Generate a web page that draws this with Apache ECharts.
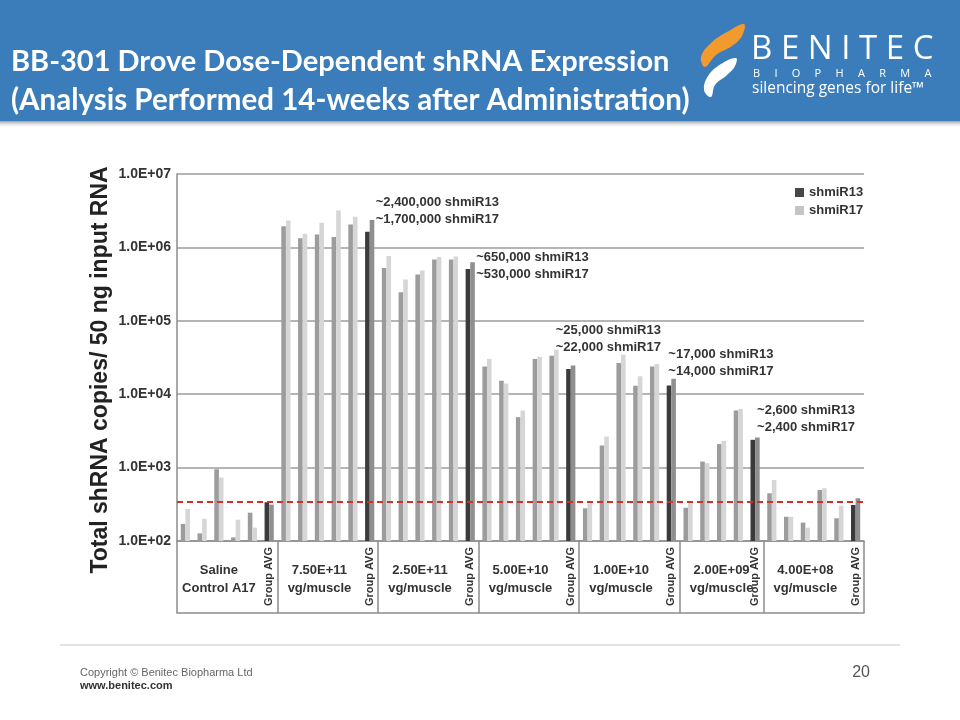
<!DOCTYPE html>
<html>
<head>
<meta charset="utf-8">
<script src="https://cdn.jsdelivr.net/npm/echarts@6/dist/echarts.min.js"></script>
<style>html,body{margin:0;padding:0;background:#fff}#c{width:960px;height:720px}</style>
</head>
<body>
<div id="c"></div>
<script>
// ---------- DATA ----------
const groupLabels = ['Saline\nControl A17', '7.50E+11\nvg/muscle', '2.50E+11\nvg/muscle', '5.00E+10\nvg/muscle', '1.00E+10\nvg/muscle', '2.00E+09\nvg/muscle', '4.00E+08\nvg/muscle'];
const avgLabel = 'Group AVG';
const shmiR13 = [
  [171, 127, 950, 112, 243],
  [1.94e6, 1.33e6, 1.50e6, 1.39e6, 2.05e6],
  [5.25e5, 2.44e5, 4.26e5, 6.82e5, 6.82e5],
  [2.39e4, 1.52e4, 4.87e3, 3.01e4, 3.34e4],
  [279, 2.0e3, 2.66e4, 1.30e4, 2.39e4],
  [284, 1.21e3, 2.09e3, 6.0e3],
  [447, 214, 178, 496, 204]
];
const shmiR17 = [
  [273, 201, 731, 195, 152],
  [2.32e6, 1.53e6, 2.16e6, 3.18e6, 2.61e6],
  [7.66e5, 3.64e5, 4.83e5, 7.42e5, 7.5e5],
  [3.01e4, 1.40e4, 6.0e3, 3.24e4, 4.03e4],
  [327, 2.65e3, 3.45e4, 1.75e4, 2.58e4],
  [327, 1.15e3, 2.31e3, 6.3e3],
  [679, 214, 152, 524, 303]
];
const avg13 = [337, 1.64e6, 5.09e5, 2.2e4, 1.31e4, 2.39e3, 310];
const avg17 = [313, 2.37e6, 6.26e5, 2.46e4, 1.62e4, 2.57e3, 382];
const annotations = [null, '~2,400,000 shmiR13\n~1,700,000 shmiR17', '~650,000 shmiR13\n~530,000 shmiR17', '~25,000 shmiR13\n~22,000 shmiR17', '~17,000 shmiR13\n~14,000 shmiR17', '~2,600 shmiR13\n~2,400 shmiR17', null];
const detectionLimit = 340;
const yTickLabels = ['1.0E+02', '1.0E+03', '1.0E+04', '1.0E+05', '1.0E+06', '1.0E+07'];
const seriesNames = ['shmiR13', 'shmiR17'];

// ---------- STYLE / LAYOUT ----------
const FONT = '"Liberation Sans", Arial, sans-serif';
const annotOffset = [null, [6, -26], [6, -13], [-15, -44], [-3, -33], [2, -36], null];

// ---------- BUILD ----------
const categories = [], isAvg = [], groupLabelAt = [], boundaries = new Set(), d13 = [], d17 = [];
groupLabels.forEach((g, gi) => {
  boundaries.add(categories.length);
  const n = shmiR13[gi].length;
  for (let k = 0; k < n; k++) {
    groupLabelAt.push(k === 2 ? g : '');
    categories.push('g' + gi + '-' + (k + 1));
    isAvg.push(false);
    d13.push(shmiR13[gi][k]);
    d17.push(shmiR17[gi][k]);
  }
  categories.push('g' + gi + '-avg');
  isAvg.push(true);
  groupLabelAt.push('');
  d13.push(avg13[gi]);
  const item = { value: avg17[gi] };
  if (annotations[gi]) {
    item.label = {
      show: true, formatter: annotations[gi], position: annotOffset[gi],
      align: 'left', verticalAlign: 'top', fontSize: 13, fontWeight: 'bold',
      color: '#333', lineHeight: 17, fontFamily: FONT
    };
  }
  d17.push(item);
});

const chart = echarts.init(document.getElementById('c'), null, { renderer: 'canvas' });
const gray = '#8c8c8c';
const option = {
  animation: false,
  backgroundColor: '#fff',
  textStyle: { fontFamily: FONT },
  grid: { left: 177, right: 96, top: 174, bottom: 179, containLabel: false },
  legend: {
    data: [{ name: seriesNames[0], itemStyle: { color: '#474747' } }, { name: seriesNames[1], itemStyle: { color: '#c4c4c4' } }],
    orient: 'vertical', left: 790, top: 181, itemWidth: 9, itemHeight: 9, itemGap: 5, icon: 'rect',
    textStyle: { fontSize: 13, fontWeight: 'bold', color: '#333', fontFamily: FONT }
  },
  xAxis: [
    {
      type: 'category', data: categories, position: 'bottom',
      axisLine: { show: true, lineStyle: { color: gray, width: 1.5 } },
      axisTick: { show: true, length: 72, interval: (i) => boundaries.has(i), lineStyle: { color: gray, width: 1.5 } },
      axisLabel: { interval: 0, formatter: (v, i) => groupLabelAt[i], margin: 20, fontSize: 13, fontWeight: 'bold', color: '#333', lineHeight: 18, fontFamily: FONT },
      splitLine: { show: false }
    },
    {
      type: 'category', data: categories, position: 'bottom',
      axisLine: { show: false }, axisTick: { show: false },
      axisLabel: { interval: 0, rotate: 90, formatter: (v, i) => isAvg[i] ? avgLabel : '', margin: 6, fontSize: 11, fontWeight: 'bold', color: '#333', fontFamily: FONT },
      splitLine: { show: false }
    },
    {
      type: 'category', data: categories, position: 'bottom', offset: 72,
      axisLine: { show: true, lineStyle: { color: gray, width: 1.5 } }, axisTick: { show: false },
      axisLabel: { show: false }, splitLine: { show: false }
    }
  ],
  yAxis: {
    type: 'log', logBase: 10, min: 100, max: 1e7,
    axisLine: { show: true, lineStyle: { color: gray, width: 1.5 } },
    axisTick: { show: false },
    axisLabel: { formatter: (v) => yTickLabels[Math.round(Math.log10(v)) - 2], fontSize: 14, fontWeight: 'bold', color: '#333', margin: 6, fontFamily: FONT },
    splitLine: { show: true, lineStyle: { color: '#9d9d9d', width: 1.5 } }
  },
  series: [
    {
      name: seriesNames[0], type: 'bar', xAxisIndex: 0, data: d13, barWidth: 4.6, barGap: '0%', clip: true,
      itemStyle: { color: (p) => isAvg[p.dataIndex] ? '#3b3b3b' : '#9c9c9c' },
      markLine: {
        silent: true, symbol: ['none', 'none'], label: { show: false },
        lineStyle: { color: '#d2302c', type: [6, 4], width: 2 },
        data: [{ yAxis: detectionLimit }]
      }
    },
    {
      name: seriesNames[1], type: 'bar', xAxisIndex: 0, data: d17, barWidth: 4.6, barGap: '0%', clip: true,
      itemStyle: { color: (p) => isAvg[p.dataIndex] ? '#8f8f8f' : '#d6d6d6' }
    }
  ],
  graphic: [
    { type: 'rect', shape: { x: 0, y: 0, width: 960, height: 121 }, style: { fill: '#3a7dba' }, silent: true },
    { type: 'rect', shape: { x: 0, y: 121, width: 960, height: 7 }, style: { fill: new echarts.graphic.LinearGradient(0, 0, 0, 1, [{ offset: 0, color: '#a0a0a0' }, { offset: 1, color: 'rgba(255,255,255,0)' }]) }, silent: true },
    { type: 'text', x: 11, y: 62, style: { text: 'BB-301 Drove Dose-Dependent shRNA Expression', fill: '#fff', font: 'bold 29px Lato, "Open Sans", sans-serif', verticalAlign: 'middle', textVerticalAlign: 'middle' } },
    { type: 'text', x: 11, y: 100, style: { text: '(Analysis Performed 14-weeks after Administration)', fill: '#fff', font: 'bold 29.5px Lato, "Open Sans", sans-serif', verticalAlign: 'middle', textVerticalAlign: 'middle' } },
    { type: 'polygon', shape: { points: [[744, 24], [727, 32], [711, 43], [701, 57], [705, 67], [716, 55], [732, 46], [742, 36]], smooth: 0.4 }, style: { fill: '#f29a2e' } },
    { type: 'polygon', shape: { points: [[736, 58], [721, 64], [708, 76], [704, 90], [711, 97], [715, 85], [727, 75], [735, 66]], smooth: 0.4 }, style: { fill: '#ffffff' } },
    { type: 'text', x: 751, y: 50, style: { text: 'B E N I T E C', fill: '#fff', font: '33px "Open Sans", sans-serif', verticalAlign: 'middle', textVerticalAlign: 'middle' } },
    { type: 'text', x: 753, y: 74, style: { text: 'B     I     O     P     H     A     R     M     A', fill: '#fff', font: '11px "Open Sans", sans-serif', verticalAlign: 'middle', textVerticalAlign: 'middle' } },
    { type: 'text', x: 752, y: 89, style: { text: 'silencing genes for life\u2122', fill: '#fff', font: '15.5px "Open Sans", sans-serif', verticalAlign: 'middle', textVerticalAlign: 'middle' } },
    { type: 'text', x: 101, y: 370, rotation: Math.PI / 2, style: { text: 'Total shRNA copies/ 50 ng input RNA', fill: '#222', font: 'bold 23px ' + FONT, align: 'center', textAlign: 'center', verticalAlign: 'middle', textVerticalAlign: 'middle' } },
    { type: 'rect', shape: { x: 60, y: 644, width: 840, height: 2 }, style: { fill: '#e2e2e2' }, silent: true },
    { type: 'text', x: 80, y: 673, style: { text: 'Copyright \u00a9 Benitec Biopharma Ltd', fill: '#666', font: '11px ' + FONT, verticalAlign: 'middle', textVerticalAlign: 'middle' } },
    { type: 'text', x: 80, y: 686, style: { text: 'www.benitec.com', fill: '#333', font: 'bold 11px ' + FONT, verticalAlign: 'middle', textVerticalAlign: 'middle' } },
    { type: 'text', x: 870, y: 673, style: { text: '20', fill: '#555', font: '16px ' + FONT, align: 'right', textAlign: 'right', verticalAlign: 'middle', textVerticalAlign: 'middle' } }
  ]
};
chart.setOption(option);
</script>
</body>
</html>
